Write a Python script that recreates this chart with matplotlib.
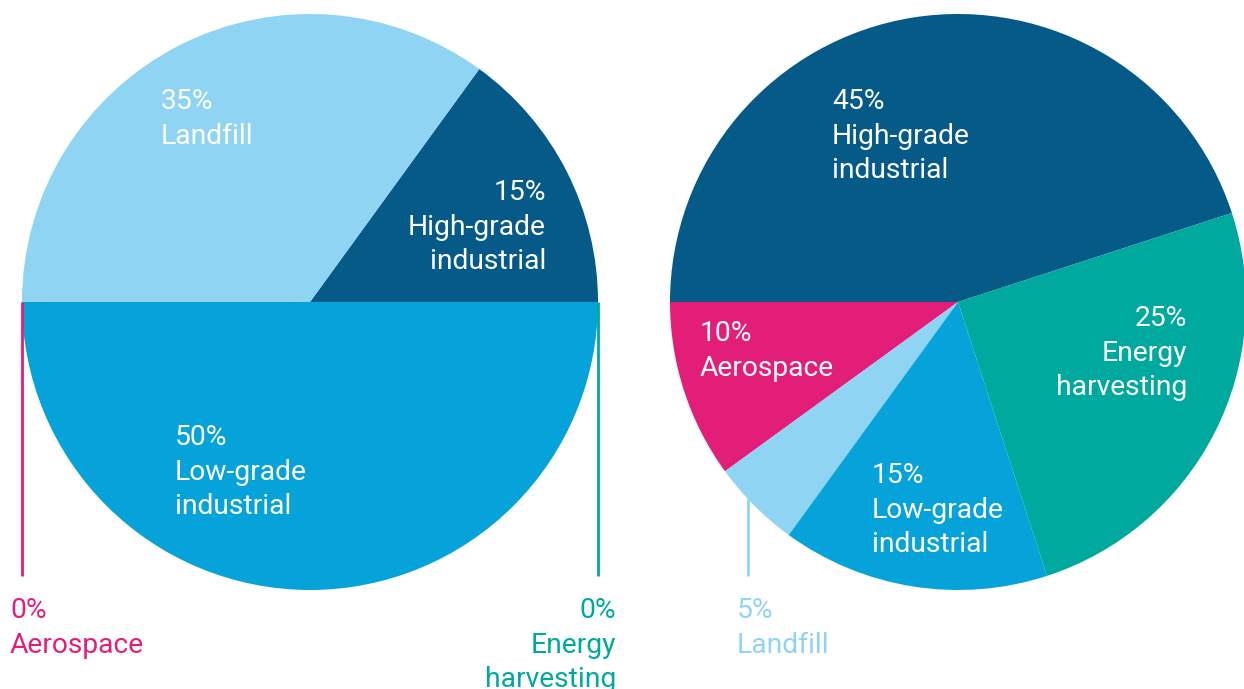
import numpy as np
import matplotlib
matplotlib.use("Agg")
import matplotlib.pyplot as plt

# Colours per end-use category
COLORS = {
    "High-grade industrial": "#055A87",
    "Landfill": "#8FD4F2",
    "Low-grade industrial": "#06A3DA",
    "Aerospace": "#E31E79",
    "Energy harvesting": "#00A99D",
}

# Left pie (current)
left_categories = ["High-grade industrial", "Landfill", "Aerospace",
                   "Low-grade industrial", "Energy harvesting"]
left_values = [15, 35, 0, 50, 0]
left_labels = ["15%\nHigh-grade\nindustrial", "35%\nLandfill", "0%\nAerospace",
               "50%\nLow-grade\nindustrial", "0%\nEnergy\nharvesting"]

# Right pie (future)
right_categories = ["High-grade industrial", "Aerospace", "Landfill",
                    "Low-grade industrial", "Energy harvesting"]
right_values = [45, 10, 5, 15, 25]
right_labels = ["45%\nHigh-grade\nindustrial", "10%\nAerospace", "5%\nLandfill",
                "15%\nLow-grade\nindustrial", "25%\nEnergy\nharvesting"]

W, H = 1244, 689
plt.rcParams["font.family"] = ["Roboto", "DejaVu Sans"]

fig = plt.figure(figsize=(W / 100, H / 100), dpi=100)
ax = fig.add_axes([0, 0, 1, 1])

R = 288
FS = 20.3
LS = 1.36


def py(y):
    # convert top-down pixel row to axis y
    return H - y


def draw_pie(values, cats, center, start):
    wedges, _ = ax.pie(values, colors=[COLORS[c] for c in cats], startangle=start,
                       counterclock=True, radius=R, center=center,
                       wedgeprops=dict(linewidth=0), frame=True)
    return wedges


left_center = (310, py(302))
right_center = (958, py(302))
lw = draw_pie(left_values, left_categories, left_center, 0)
rw = draw_pie(right_values, right_categories, right_center, 18)
ax.set_xlim(0, W)
ax.set_ylim(0, H)
ax.set_aspect("equal")
ax.axis("off")


def callout(wedge, center, y_end, frac=0.5):
    ang = np.deg2rad(wedge.theta1 + frac * (wedge.theta2 - wedge.theta1))
    x = center[0] + R * np.cos(ang)
    y0 = center[1] + R * np.sin(ang)
    if abs(np.sin(ang)) < 1e-6:
        y0 = center[1]
    ax.plot([x, x], [y0, py(y_end)], color=wedge.get_facecolor(), lw=2,
            solid_capstyle="butt")
    return x


# label layout: (x, top y, alignment, colour)
left_layout = {
    0: (546, 179, "right", "white"),
    1: (161, 88, "left", "white"),
    2: (10, 597, "left", COLORS["Aerospace"]),
    3: (175, 424, "left", "white"),
    4: (616, 597, "right", COLORS["Energy harvesting"]),
}
right_layout = {
    0: (832, 88, "left", "white"),
    1: (700, 320, "left", "white"),
    2: (737, 597, "left", COLORS["Landfill"]),
    3: (872, 462, "left", "white"),
    4: (1187, 305, "right", "white"),
}

# leader lines for zero / small wedges
callout(lw[2], left_center, 576)
callout(lw[4], left_center, 576)
callout(rw[2], right_center, 576, frac=0.4)

for labels, layout in ((left_labels, left_layout), (right_labels, right_layout)):
    for i, text in enumerate(labels):
        x, y, ha, col = layout[i]
        ax.text(x, py(y), text, ha=ha, va="top", multialignment=ha, color=col,
                fontsize=FS, linespacing=LS)

fig.savefig("out.png", dpi=100)
